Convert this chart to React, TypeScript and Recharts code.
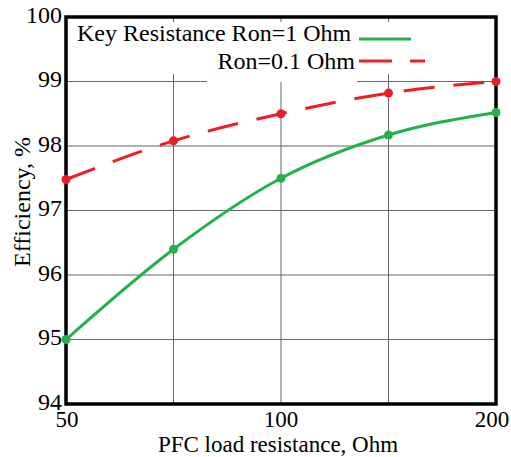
import { CartesianGrid, Line, LineChart, ReferenceArea, XAxis, YAxis } from 'recharts';

const loadResistance = ['50', '71', '100', '141', '200'];
const shownTicks = ['50', '100', '200'];
const effRon1 = [95.0, 96.4, 97.5, 98.17, 98.52];
const effRon01 = [97.48, 98.08, 98.5, 98.82, 99.0];
const yTicks = [94, 95, 96, 97, 98, 99, 100];

const green = '#22b24c';
const red = '#ee1d25';
const font = 'Liberation Serif, DejaVu Serif, serif';
const txt = { fontFamily: font, fontSize: 24, fill: '#000' };
const txtSmall = { ...txt, fontSize: 23 };

const data = loadResistance.map((r, i) => ({ r, ron1: effRon1[i], ron01: effRon01[i] }));

// y passed in already includes tickSize + tickMargin (404 + 8)
function XTick({ x, y, payload, index }: any) {
  const label = shownTicks.includes(payload.value) ? payload.value : '';
  const shift = index === 0 ? 1 : index === loadResistance.length - 1 ? -4 : 0;
  return (
    <text x={x + shift} y={y + 15} textAnchor="middle" style={txtSmall}>
      {label}
    </text>
  );
}

function YTick({ x, y, payload }: any) {
  return (
    <text x={x} y={y - 3} dy="0.355em" textAnchor="end" style={txt}>
      {payload.value}
    </text>
  );
}

function LegendBox() {
  return (
    <svg width={511} height={457} style={{ position: 'absolute', left: 0, top: 0, pointerEvents: 'none' }}>
      <rect x={69} y={22} width={372} height={52} fill="#fff" />
      <rect x={207} y={50} width={150} height={32} fill="#fff" />
      <text x={77} y={41} style={txt}>Key Resistance Ron=1 Ohm</text>
      <line x1={359} x2={411} y1={39} y2={39} stroke={green} strokeWidth={3} />
      <text x={355} y={69} textAnchor="end" style={txt}>Ron=0.1 Ohm</text>
      <line x1={359} x2={425} y1={61} y2={61} stroke={red} strokeWidth={3} strokeDasharray="33 18" />
    </svg>
  );
}

export default function App() {
  return (
    <div style={{ position: 'absolute', left: 0, top: 0, width: 511, height: 457, background: '#fff', fontFamily: font }}>
      <LineChart width={511} height={457} data={data} margin={{ top: 17, right: 15, bottom: 0, left: 0 }}>
        <CartesianGrid stroke="#666" strokeWidth={1} />
        <XAxis
          dataKey="r"
          height={53}
          interval={0}
          axisLine={false}
          tickLine={false}
          tick={<XTick />}
          label={{
            content: () => (
              <text x={278} y={452} textAnchor="middle" style={txtSmall}>
                PFC load resistance, Ohm
              </text>
            ),
          }}
        />
        <YAxis
          type="number"
          domain={[94, 100]}
          ticks={yTicks}
          width={66}
          axisLine={false}
          tickLine={false}
          tickSize={4}
          tickMargin={0}
          tick={<YTick />}
          label={{
            content: () => (
              <text x={22} y={202} transform="rotate(-90 22 202)" textAnchor="middle" dominantBaseline="central" style={txt}>
                Efficiency, %
              </text>
            ),
          }}
        />
        <ReferenceArea x1="50" x2="200" y1={94} y2={100} fill="none" stroke="#000" strokeWidth={3.5} ifOverflow="visible" />
        <Line
          type="monotone"
          dataKey="ron1"
          stroke={green}
          strokeWidth={3}
          dot={{ r: 4.5, fill: green, stroke: 'none' }}
          isAnimationActive={false}
        />
        <Line
          type="monotone"
          dataKey="ron01"
          stroke={red}
          strokeWidth={3}
          strokeDasharray="31 19"
          dot={{ r: 4.5, fill: red, stroke: 'none', strokeDasharray: '' }}
          isAnimationActive={false}
        />
      </LineChart>
      <LegendBox />
    </div>
  );
}
